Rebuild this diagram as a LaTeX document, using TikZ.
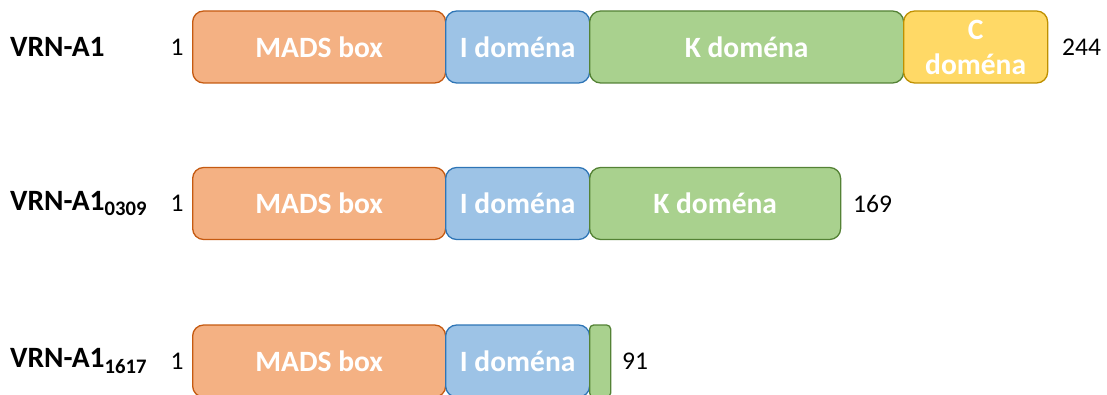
\documentclass[tikz,border=0pt]{standalone}
\usepackage{fontspec}
\setmainfont{Carlito}
\definecolor{madsF}{HTML}{F4B183}\definecolor{madsD}{HTML}{C55A11}
\definecolor{iF}{HTML}{9DC3E6}\definecolor{iD}{HTML}{2E75B6}
\definecolor{kF}{HTML}{A9D18E}\definecolor{kD}{HTML}{548235}
\definecolor{cF}{HTML}{FFD966}\definecolor{cD}{HTML}{BF9000}
\tikzset{
  dom/.style={rectangle, rounded corners=11pt, line width=1.3pt, anchor=west,
    minimum height=72pt, inner sep=0pt, text=white, align=center,
    font=\fontsize{29.5}{35}\selectfont\bfseries},
  mads/.style={dom, fill=madsF, draw=madsD, minimum width=253pt},
  idom/.style={dom, fill=iF, draw=iD, minimum width=144pt},
  kdom/.style={dom, fill=kF, draw=kD},
  cdom/.style={dom, fill=cF, draw=cD, minimum width=144pt},
  lab/.style={anchor=west, inner sep=0pt, font=\fontsize{29.5}{35}\selectfont\bfseries},
  num/.style={inner sep=0pt, font=\fontsize{25.5}{30}\selectfont},
}
\begin{document}
\begin{tikzpicture}[x=1pt,y=1pt]
\useasboundingbox (0,0) rectangle (1107,394);
\clip (0,0) rectangle (1107,394);
% row 1
\node[mads] (m1) at (192,347) {MADS box};
\node[idom] (i1) at (445,347) {I doména};
\node[kdom, minimum width=314pt] (k1) at (589,347) {K doména};
\node[cdom] (c1) at (903,347) {C\\doména};
\node[lab] (l1) at (10,347) {VRN-A1};
\node[num] (s1) at (177,347) {1};
\node[num, anchor=west] (e1) at (1062,347) {244};
% row 2
\node[mads] (m2) at (192,190.5) {MADS box};
\node[idom] (i2) at (445,190.5) {I doména};
\node[kdom, minimum width=251pt] (k2) at (589,190.5) {K doména};
\node[lab] (l2) at (10,190.5) {VRN-A1\textsubscript{0309}};
\node[num] (s2) at (177,190.5) {1};
\node[num, anchor=west] (e2) at (853,190.5) {169};
% row 3
\node[mads] (m3) at (192,33) {MADS box};
\node[idom] (i3) at (445,33) {I doména};
\node[kdom, minimum width=21pt, rounded corners=4pt] (k3) at (589,33) {};
\node[lab] (l3) at (10,33) {VRN-A1\textsubscript{1617}};
\node[num] (s3) at (177,33) {1};
\node[num, anchor=west] (e3) at (622,33) {91};
\end{tikzpicture}
\end{document}
